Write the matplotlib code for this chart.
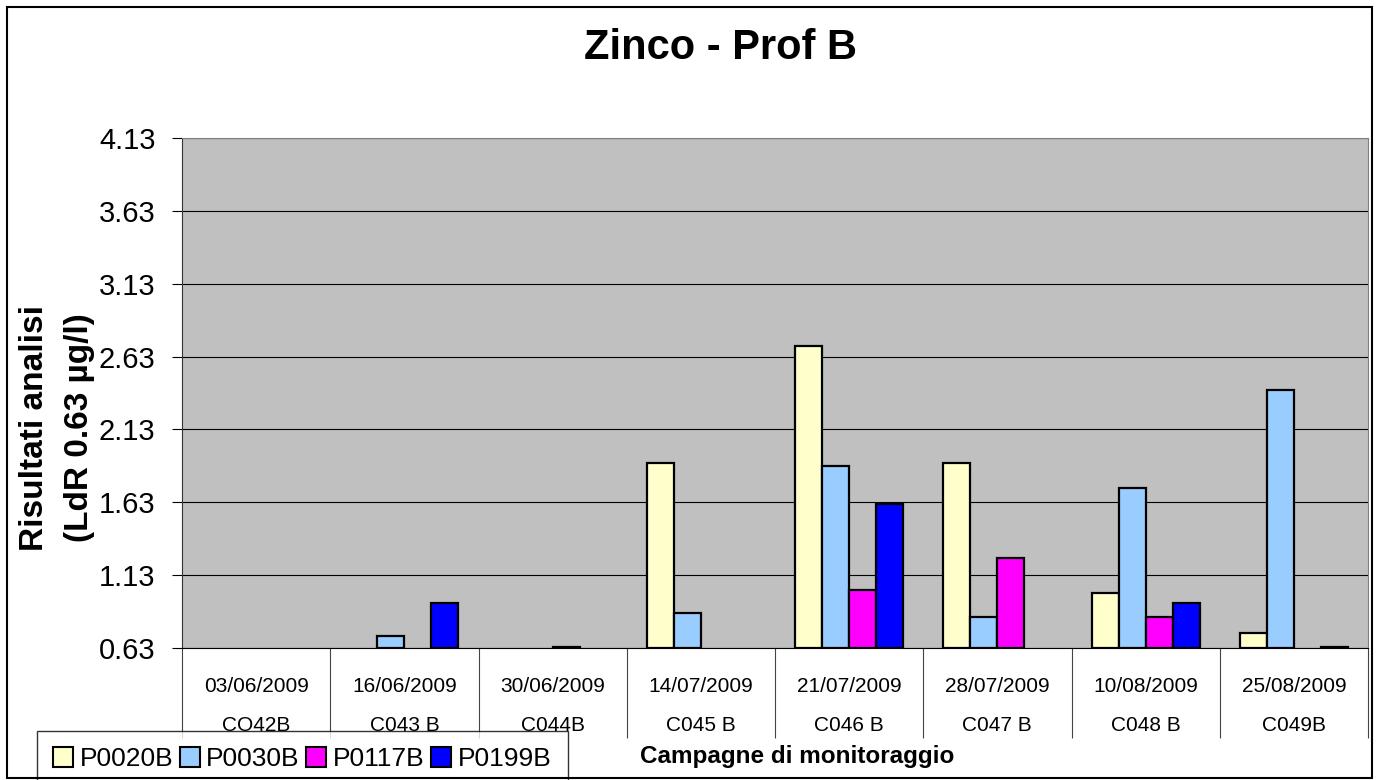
import numpy as np
import matplotlib
matplotlib.use("Agg")
import matplotlib.pyplot as plt
from matplotlib.patches import Patch, Rectangle

plt.rcParams['font.family'] = ['Liberation Sans', 'DejaVu Sans']

# data (nan = no bar)
dates = ["03/06/2009", "16/06/2009", "30/06/2009", "14/07/2009",
         "21/07/2009", "28/07/2009", "10/08/2009", "25/08/2009"]
codes = ["CO42B", "C043 B", "C044B", "C045 B", "C046 B", "C047 B", "C048 B", "C049B"]
series = ["P0020B", "P0030B", "P0117B", "P0199B"]
p0020b = [np.nan, np.nan, np.nan, 1.90, 2.70, 1.90, 1.01, 0.73]
p0030b = [np.nan, 0.71, np.nan, 0.87, 1.88, 0.84, 1.73, 2.40]
p0117b = [np.nan, np.nan, 0.64, np.nan, 1.03, 1.25, 0.84, np.nan]
p0199b = [np.nan, 0.94, np.nan, np.nan, 1.62, np.nan, 0.94, 0.64]
colors = ["#FFFFCC", "#99CCFF", "#FF00FF", "#0000FF"]
yticks = [0.63, 1.13, 1.63, 2.13, 2.63, 3.13, 3.63, 4.13]
base = 0.63

W, H = 1377, 780
fig = plt.figure(figsize=(W / 100, H / 100), dpi=100)
ax = fig.add_axes([182 / W, 1 - 648 / H, (1368 - 182) / W, (648 - 138) / H])
ax.set_facecolor("#C0C0C0")

x = np.arange(len(dates))
bw = 0.182
for k, (vals, c) in enumerate(zip([p0020b, p0030b, p0117b, p0199b], colors)):
    v = np.array(vals, dtype=float)
    ax.bar(x + (k - 1.5) * bw, v - base, bw, bottom=base, color=c,
           edgecolor="black", linewidth=1.6, zorder=3)

ax.set_xlim(-0.5, len(dates) - 0.5)
ax.set_ylim(base, 4.13)
ax.set_yticks(yticks)
ax.set_yticklabels(["%.2f" % t for t in yticks], fontsize=21)
ax.yaxis.grid(True, color="black", linewidth=0.8, zorder=0)
ax.set_axisbelow(True)
ax.tick_params(axis="y", direction="out", length=7, width=0.8, pad=12)

ax.set_xticks(x)
ax.set_xticklabels([d + "\n" + c for d, c in zip(dates, codes)],
                   fontsize=15, linespacing=2.3)
ax.tick_params(axis="x", which="major", length=0, pad=21)
ax.set_xticks(np.arange(-0.5, len(dates)), minor=True)
ax.tick_params(axis="x", which="minor", direction="out", length=65,
               width=0.8, color="#444444")

for s in ["top", "right"]:
    ax.spines[s].set_color("#808080")
ax.spines["left"].set_color("#333333")
ax.spines["bottom"].set_color("black")

fig.text(720 / W, 1 - 48 / H, "Zinco - Prof B", fontsize=30,
         fontweight="bold", ha="center", va="center")
fig.text(57 / W, 1 - 428 / H, "Risultati analisi\n(LdR 0.63 µg/l)",
         fontsize=24, fontweight="bold", rotation=90, ha="center",
         va="center", multialignment="center", linespacing=1.55)
fig.text(797 / W, 1 - 757 / H, "Campagne di monitoraggio", fontsize=17.5,
         fontweight="bold", ha="center", va="center")

handles = [Patch(facecolor=c, edgecolor="black", linewidth=1.5) for c in colors]
leg = fig.legend(handles, series, loc="upper left",
                 bbox_to_anchor=(37 / W, 1 - 731 / H), ncol=4, fontsize=19,
                 frameon=True, fancybox=False, edgecolor="black",
                 handlelength=0.75, handleheight=0.75, handletextpad=0.25,
                 columnspacing=0.25, borderpad=0.62, borderaxespad=0)
leg.get_frame().set_linewidth(1.0)

fig.patches.append(Rectangle((7 / W, 2 / H), (1372 - 7) / W, (773 - 2) / H,
                             transform=fig.transFigure, fill=False,
                             edgecolor="black", linewidth=1.5, zorder=10))

fig.savefig("out.png", dpi=100)
